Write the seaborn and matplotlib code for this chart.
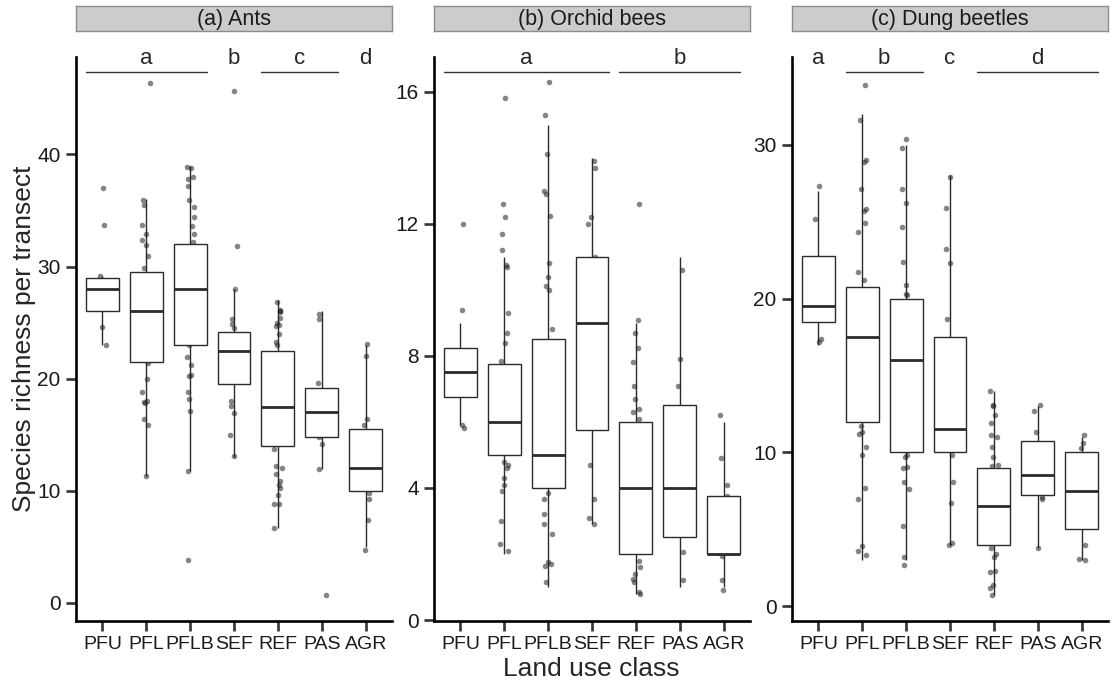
import numpy as np
import pandas as pd
import matplotlib
matplotlib.use('Agg')
import matplotlib.pyplot as plt
import matplotlib.transforms as mtransforms
import seaborn as sns

sns.set_style('ticks')
plt.rcParams['font.family'] = ['Liberation Sans', 'DejaVu Sans']

classes = ['PFU', 'PFL', 'PFLB', 'SEF', 'REF', 'PAS', 'AGR']
titles = ['(a) Ants', '(b) Orchid bees', '(c) Dung beetles']

# box stats (lower whisker, q1, median, q3, upper whisker)
ants_lo = [23, 11.3, 11.8, 13, 6.7, 11.9, 5]
ants_q1 = [26, 21.5, 23, 19.5, 14, 14.8, 10]
ants_med = [28, 26, 28, 22.5, 17.5, 17, 12]
ants_q3 = [29, 29.5, 32, 24.2, 22.5, 19.2, 15.5]
ants_hi = [29.2, 36, 39, 28, 27, 26, 23]

bees_lo = [5.9, 2, 1, 2.9, 0.8, 1, 1]
bees_q1 = [6.75, 5, 4, 5.75, 2, 2.5, 2]
bees_med = [7.5, 6, 5, 9, 4, 4, 2]
bees_q3 = [8.25, 7.75, 8.5, 11, 6, 6.5, 3.75]
bees_hi = [9, 11, 15, 14, 9, 11, 6]

dung_lo = [17, 3, 3, 4, 0.7, 3.8, 3]
dung_q1 = [18.5, 12, 10, 10, 4, 7.2, 5]
dung_med = [19.5, 17.5, 16, 11.5, 6.5, 8.5, 7.5]
dung_q3 = [22.75, 20.75, 20, 17.5, 9, 10.75, 10]
dung_hi = [27, 32, 30, 28, 14, 13, 11]

# visible transect points (the ones not hidden behind the boxes)
ants_pts = [
    [37, 33.7, 29.2, 24.6, 23],
    [46.4, 35.9, 35.5, 33.7, 32.9, 32.4, 31.9, 30.9, 29.9, 21.4, 20.0, 18.8, 18.0, 17.9, 17.8, 16.4, 15.9, 11.3],
    [38.9, 38.8, 38.0, 37.8, 37.2, 35.9, 35.3, 34.4, 33.6, 32.9, 32.2, 23.0, 21.9, 21.2, 20.3, 20.2, 18.8, 18.2, 17.1, 11.8, 3.8],
    [45.7, 31.8, 28.0, 25.3, 24.9, 24.5, 18.0, 17.6, 16.9, 15.0, 13.1],
    [26.8, 26.1, 26.0, 25.9, 25.4, 25.0, 24.8, 24.7, 24.0, 23.3, 23.0, 13.7, 12.2, 12.0, 11.5, 10.9, 10.5, 10.2, 9.6, 8.8, 8.8, 6.7],
    [25.8, 25.3, 19.6, 14.8, 14.2, 11.9, 0.7],
    [23.1, 22.0, 16.4, 15.9, 9.8, 9.3, 7.4, 4.7],
]
bees_pts = [
    [12.0, 9.4, 5.9, 5.8],
    [15.8, 12.6, 12.2, 11.7, 11.2, 10.75, 10.7, 9.3, 8.7, 8.4, 7.85, 4.8, 4.7, 4.6, 4.3, 4.1, 3.9, 3.0, 2.3, 2.1],
    [16.3, 15.3, 14.1, 13.0, 12.9, 12.25, 10.8, 10.4, 10.1, 10.0, 8.8, 3.85, 3.65, 3.2, 2.9, 2.6, 1.75, 1.7, 1.65, 1.15],
    [13.9, 13.7, 12.2, 12.0, 11.0, 4.7, 3.65, 3.1, 2.9],
    [12.6, 9.1, 8.7, 8.25, 7.8, 7.1, 6.7, 6.4, 6.3, 6.1, 1.8, 1.6, 1.4, 1.25, 1.15, 0.85, 0.8],
    [10.6, 7.9, 7.1, 2.05, 1.2],
    [6.2, 4.9, 4.1, 3.75, 1.95, 1.2, 0.9],
]
dung_pts = [
    [27.3, 25.2, 17.4, 17.2],
    [33.9, 31.6, 29.0, 28.9, 27.1, 25.8, 25.7, 24.9, 24.3, 21.7, 21.2, 11.7, 11.3, 11.2, 10.35, 9.8, 7.7, 7.0, 3.9, 3.6, 3.3],
    [30.4, 29.8, 27.1, 26.2, 24.65, 22.4, 20.9, 20.3, 20.2, 9.8, 9.7, 9.05, 9.0, 8.1, 7.6, 5.2, 3.2, 2.65],
    [27.9, 25.9, 23.2, 22.3, 18.7, 9.8, 8.1, 6.7, 4.1, 4.0],
    [14.0, 13.05, 13.0, 12.4, 11.9, 11.1, 11.0, 10.35, 9.7, 9.2, 9.1, 3.8, 3.4, 3.2, 2.3, 2.2, 1.4, 1.2, 0.75],
    [13.05, 12.7, 11.3, 7.1, 7.0, 3.8],
    [11.1, 10.6, 10.3, 4.0, 3.1, 3.0],
]

# significance groups: (first class, last class, letter)
ants_groups = [(0, 2, 'a'), (3, 3, 'b'), (4, 5, 'c'), (6, 6, 'd')]
bees_groups = [(0, 3, 'a'), (4, 6, 'b')]
dung_groups = [(0, 0, 'a'), (1, 2, 'b'), (3, 3, 'c'), (4, 6, 'd')]

ants_ticks = [0, 10, 20, 30, 40]
bees_ticks = [0, 4, 8, 12, 16]
dung_ticks = [0, 10, 20, 30]

panels = [
    (ants_lo, ants_q1, ants_med, ants_q3, ants_hi, ants_pts, ants_groups, ants_ticks, (-1.63, 48.7)),
    (bees_lo, bees_q1, bees_med, bees_q3, bees_hi, bees_pts, bees_groups, bees_ticks, (-0.03, 17.05)),
    (dung_lo, dung_q1, dung_med, dung_q3, dung_hi, dung_pts, dung_groups, dung_ticks, (-0.96, 35.7)),
]

W, H = 1117, 686
fig = plt.figure(figsize=(W / 100, H / 100), dpi=100)
lefts = [76, 434, 792]
np.random.seed(3)

for k, (lo, q1, med, q3, hi, pts, groups, ticks, ylim) in enumerate(panels):
    ax = fig.add_axes([lefts[k] / W, 65 / H, 316 / W, 564 / H])

    pts_df = pd.DataFrame({'cls': [c for c, p in zip(classes, pts) for _ in p],
                           'val': [v for p in pts for v in p]})
    box_df = pd.DataFrame({'cls': [c for c in classes for _ in range(5)],
                           'val': [v for vals in zip(lo, q1, med, q3, hi) for v in vals]})

    sns.stripplot(data=pts_df, x='cls', y='val', order=classes, jitter=0.1,
                  color='#222222', alpha=0.55, size=4.0, linewidth=0, zorder=2, ax=ax)
    sns.boxplot(data=box_df, x='cls', y='val', order=classes, whis=(0, 100),
                showfliers=False, showcaps=False, width=0.75, color='white',
                linecolor='#2b2b2b', linewidth=1.0,
                boxprops={'zorder': 3}, whiskerprops={'zorder': 1.5},
                medianprops={'linewidth': 2.0, 'color': '#2b2b2b', 'zorder': 4}, ax=ax)

    ax.set_xlim(-0.6, 6.6)
    ax.set_ylim(*ylim)
    ax.set_yticks(ticks)
    ax.set_xlabel('')
    ax.set_ylabel('')
    sns.despine(ax=ax)
    for s in ['left', 'bottom']:
        ax.spines[s].set_linewidth(1.9)
        ax.spines[s].set_color('black')
    ax.tick_params(axis='both', length=7.5, width=1.9, color='#333333', labelcolor='#1a1a1a')
    ax.tick_params(axis='y', labelsize=15, pad=3.5)
    ax.tick_params(axis='x', labelsize=14, pad=3)

    trans = mtransforms.blended_transform_factory(ax.transData, ax.transAxes)
    for i, j, letter in groups:
        ax.text((i + j) / 2, 0.988, letter, transform=trans, ha='center', va='baseline',
                fontsize=16, clip_on=False)
        if j > i:
            ax.plot([i - 0.38, j + 0.38], [0.973, 0.973], transform=trans, color='#333333',
                    linewidth=1.0, clip_on=False)

    # facet strip
    sax = fig.add_axes([lefts[k] / W, (H - 31) / H, 316 / W, 25 / H])
    sax.set_facecolor('#cccccc')
    sax.set_xticks([])
    sax.set_yticks([])
    for s in sax.spines.values():
        s.set_color('#8c8c8c')
        s.set_linewidth(1.0)
    sax.text(0.5, 0.45, titles[k], ha='center', va='center', fontsize=15.5,
             color='#1a1a1a', transform=sax.transAxes)

fig.text(24 / W, 1 - 339 / H, 'Species richness per transect', rotation=90,
         ha='center', va='center', fontsize=19)
fig.text(591 / W, 1 - 676 / H, 'Land use class', ha='center', va='baseline', fontsize=19)

fig.savefig('out.png', dpi=100)
